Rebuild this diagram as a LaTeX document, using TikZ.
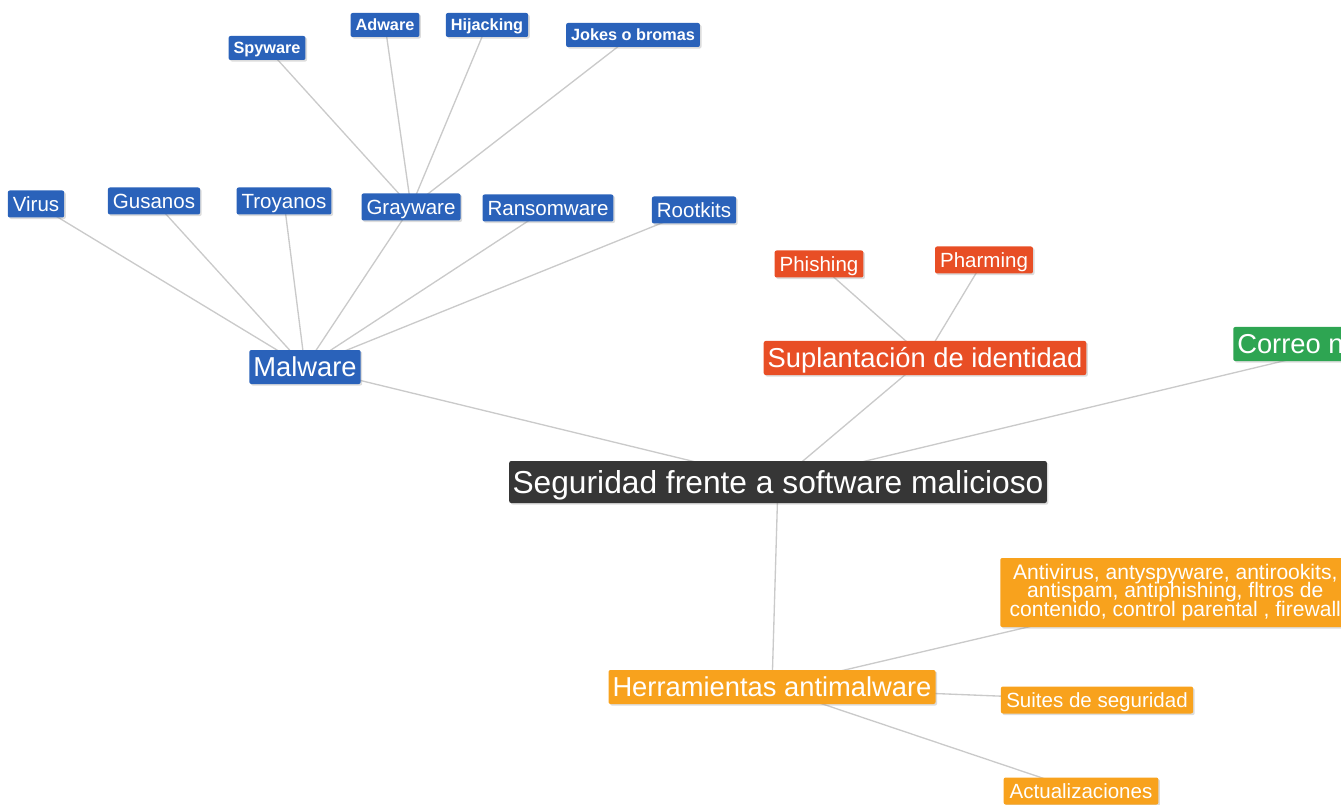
\documentclass[tikz,border=0pt]{standalone}
\usepackage{fontspec}
\setmainfont{Liberation Sans}
\usetikzlibrary{shadows}
\definecolor{cblue}{HTML}{2A62BA}
\definecolor{cred}{HTML}{E84E25}
\definecolor{cgreen}{HTML}{2EA552}
\definecolor{corange}{HTML}{F8A21D}
\definecolor{cdark}{HTML}{363636}
\definecolor{cline}{HTML}{CACACA}
\newcommand{\tightlines}{\setlength{\lineskiplimit}{-8pt}}
\pgfdeclarelayer{background}
\pgfsetlayers{background,main}
\begin{document}
\begin{tikzpicture}[x=0.75pt,y=-0.75pt,
  box/.style={rounded corners=1.5pt, text=white, inner ysep=0pt,
    drop shadow={shadow xshift=1.2pt,shadow yshift=-1.2pt,opacity=0.28}},
  rootbox/.style={box, fill=cdark, font=\fontsize{23.8pt}{26pt}\selectfont,
    minimum height=31.5pt, inner xsep=2.5pt, text height=21.9pt, text depth=4.8pt},
  lone/.style={box, font=\fontsize{20.5pt}{22pt}\selectfont,
    minimum height=25.5pt, inner xsep=3pt, text height=18.9pt, text depth=4.1pt},
  ltwo/.style={box, font=\fontsize{15.4pt}{17pt}\selectfont,
    minimum height=20.25pt, inner xsep=3.75pt, text height=14.2pt, text depth=3.1pt},
  lthree/.style={box, fill=cblue, font=\fontsize{12.2pt}{14pt}\selectfont\bfseries,
    minimum height=18pt, inner xsep=3.75pt, text height=11.2pt, text depth=2.4pt},
  link/.style={draw=cline, line width=1pt}]
\useasboundingbox (0,0) rectangle (1341,805);
\clip (0,0) rectangle (1341,805);

\node[rootbox] (root) at (778,482) {Seguridad frente a software malicioso};

\node[lone, fill=cblue] (malware) at (305,367) {Malware};
\node[lone, fill=cred] (supl) at (925,358) {Suplantación de identidad};
\node[lone, fill=cgreen, anchor=west] (correo) at (1233,344) {Correo no deseado};
\node[lone, fill=corange] (herr) at (772,687) {Herramientas antimalware};

\node[ltwo, fill=cblue] (virus) at (36,204) {Virus};
\node[ltwo, fill=cblue] (gusanos) at (154,201) {Gusanos};
\node[ltwo, fill=cblue] (troyanos) at (284,201) {Troyanos};
\node[ltwo, fill=cblue] (grayware) at (411,207) {Grayware};
\node[ltwo, fill=cblue] (ransom) at (548,208) {Ransomware};
\node[ltwo, fill=cblue] (rootkits) at (694,210) {Rootkits};

\node[lthree] (spyware) at (267,48) {Spyware};
\node[lthree] (adware) at (385,25) {Adware};
\node[lthree] (hijack) at (487,25) {Hijacking};
\node[lthree] (jokes) at (633,35) {Jokes o bromas};

\node[ltwo, fill=cred] (phishing) at (819,264) {Phishing};
\node[ltwo, fill=cred] (pharming) at (984,260) {Pharming};

\node[box, fill=corange, anchor=west, align=center, inner xsep=0pt,
  font=\fontsize{15.8pt}{13.9pt}\selectfont\tightlines, minimum width=262.5pt,
  minimum height=51.75pt] (antiv) at (1000,592.5)
  {Antivirus, antyspyware, antirookits,\\antispam, antiphishing, fltros de\\contenido, control parental , firewall};
\node[ltwo, fill=corange, inner xsep=4pt] (suites) at (1097,700) {Suites de seguridad};
\node[ltwo, fill=corange, inner xsep=4.5pt] (actual) at (1081,791) {Actualizaciones};

\begin{pgfonlayer}{background}
\clip (0,0) rectangle (1341,805);
\draw[link] (root.center) -- (malware.center);
\draw[link] (root.center) -- (supl.center);
\draw[link] (root.center) -- (correo.center);
\draw[link] (root.center) -- (herr.center);
\foreach \n in {virus,gusanos,troyanos,grayware,ransom,rootkits}
  \draw[link] (malware.center) -- (\n.center);
\foreach \n in {spyware,adware,hijack,jokes}
  \draw[link] (grayware.center) -- (\n.center);
\foreach \n in {phishing,pharming}
  \draw[link] (supl.center) -- (\n.center);
\foreach \n in {antiv,suites,actual}
  \draw[link] (herr.center) -- (\n.center);
\end{pgfonlayer}
\end{tikzpicture}
\end{document}
